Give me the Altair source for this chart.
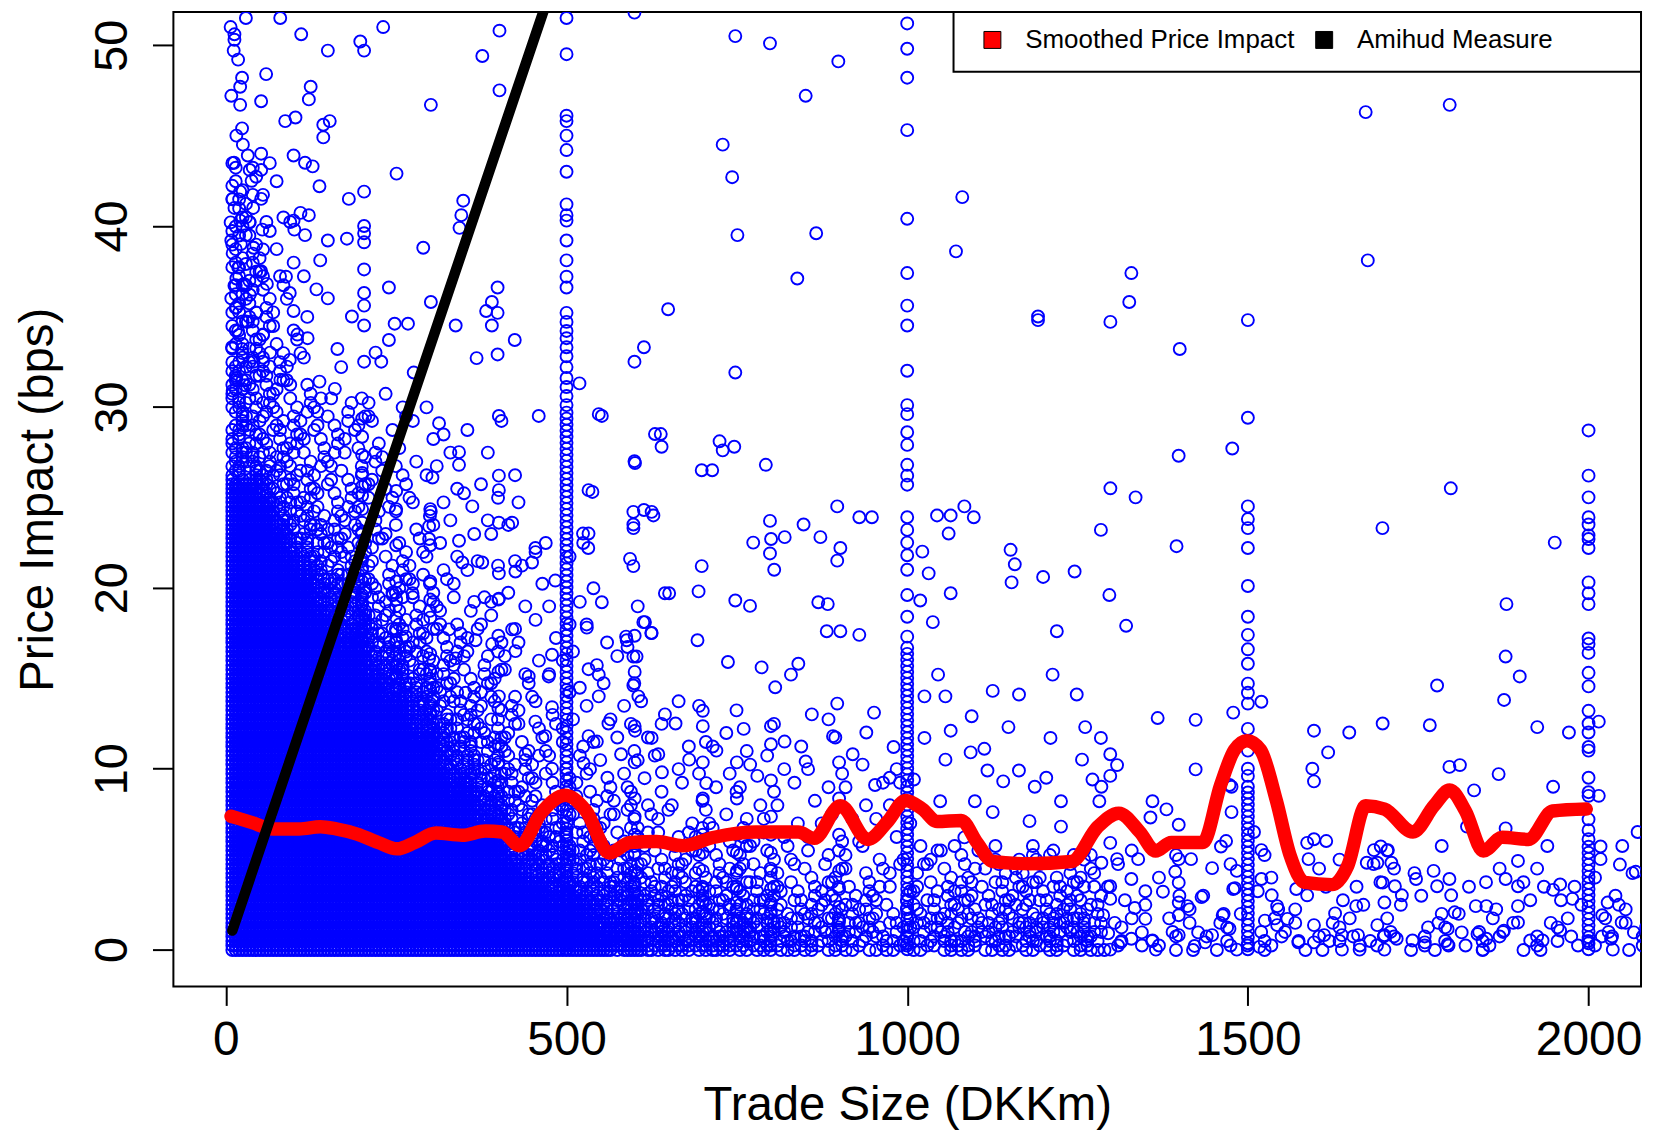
import altair as alt
import pandas as pd

alt.data_transformers.disable_max_rows()
FONT = "Liberation Sans"

# ---------------- lines ----------------
red_x = [7.6, 38.5, 69.3, 107.8, 138.7, 161.8, 192.6, 223.5, 251.2, 277.4, 308.3, 346.8, 380.8, 405.4,
         431.6, 462.5, 497.9, 528.8, 562.7, 593.5, 632.0, 670.6, 716.9, 778.6, 840.2, 863.4, 901.9, 942.0,
         971.3, 997.5, 1022.2, 1043.8, 1079.2, 1102.4, 1125.5, 1179.5, 1241.1, 1279.7, 1310.5, 1341.4,
         1364.5, 1387.6, 1433.9, 1460.1, 1480.2, 1498.7, 1518.7, 1541.8, 1561.9, 1583.4, 1623.5, 1646.7,
         1672.9, 1700.6, 1742.3, 1773.1, 1796.2, 1819.3, 1845.6, 1873.3, 1911.9, 1947.3, 1996.7]
red_y = [7.37, 7.02, 6.67, 6.67, 6.79, 6.67, 6.38, 5.92, 5.57, 5.92, 6.44, 6.32, 6.55, 6.50, 5.74, 7.54,
         8.53, 7.66, 5.34, 5.92, 5.97, 5.74, 6.21, 6.50, 6.50, 6.15, 7.95, 6.09, 7.08, 8.24, 7.77, 7.08,
         7.14, 5.92, 4.87, 4.75, 4.87, 6.79, 7.54, 6.50, 5.45, 5.92, 5.92, 9.11, 11.03, 11.55, 11.03, 8.24,
         5.22, 3.71, 3.59, 4.64, 7.95, 7.77, 6.50, 7.95, 8.82, 7.66, 5.45, 6.21, 6.09, 7.66, 7.77]
amihud_x = [9.5, 470.0]
amihud_y = [1.05, 52.3]
series_names = ["Smoothed Price Impact", "Amihud Measure"]

# ---------------- dense cloud (cells 20 DKKm x 1 bps, digit = density 0-9) ----------------
blob_left_x0 = 7
blob_solid = [26, 26, 25, 23, 22, 21, 19, 18, 17, 17, 15, 14, 14, 12, 12, 10, 9, 9, 7, 7, 5, 4, 4, 3, 3, 3,
              2, 1, 0, 1] + [0] * 20
blob_upper = ["66555" "5544443333332", "55444" "4433333222211", "654333" "3322222111101",
              "76443332" "2221111101010", "654433322" "2111010101", "6544332222" "1110101001",
              "765443222222", "7654432222221", "76543322221121", "87654332222121", "7654332221212121",
              "76543222111211101", "76543322211121011", "7654332221111101010", "7654332221111010101",
              "765433222111101010100", "7654332221111010101000", "7654322211101010100100",
              "765433222111101010101000", "765443222111101010100010", "76543322211110101010010000",
              "765432221111010101001000000", "765432211110101010100000000",
              "7654322111101010100100000000", "7654322111010101001000000000",
              "6543221111010100100100000000",
              "76543221110101001010", "865432211101010010", "8865432111010100100",
              "876543221111010100100", "7654322111010100", "7654321110101", "6654321110100100",
              "654322110101", "7654322111010100", "654322110101", "6543211101001", "66443221110101",
              "5543211010100", "654322111010100", "5432111010100", "5432110101010", "5432211010100",
              "443211010100100", "553321110101", "44321101010", "4432111010100", "43221101010",
              "432110101010", "43211101010"]
blob_mid_x0 = 1007
blob_mid_cols = ["443221", "443212", "543221", "443312", "543221", "443211", "543322", "443221",
                 "544312", "453221", "553312", "454221", "553312", "443221"]
blob_right_x0 = 1287
blob_right_rows = [  # bottom row first
    "1211121112" "1211212121" "2112121211" "1211212112",
    "1110111011" "0111101110" "1101110111" "1011101111",
    "0101001010" "1010100101" "0100101010" "0101010110",
    "1001010100" "0100001010" "1001001010" "1010100100",
    "0100100001" "0010010001" "0110000001" "0100001010",
    "0010010000" "0100000100" "1000100000" "0010000010",
]

# ---------------- vertical stacks of trades at round sizes ----------------
stack_x = [500, 1000, 1500, 2000, 200, 250, 300, 400, 600, 700, 750, 800, 900]
stack_start = [0, 0, 0, 0, 17, 13, 11, 6, 2, 2, 1, 1, 1]
stack_counts = ["3" * 30 + "2", "3" * 17, "3" * 9, "333333" + "2", "2121212121111", "2121211101011",
                "21211101110101", "2121110101010100", "2211111010100101", "21111010101", "2211110101",
                "221111101011", "2111010101"]
col_x = [500, 1000, 1500, 2000]
col_extra_y = [
    [31.1, 31.6, 32.2, 32.8, 33.3, 33.8, 34.2, 34.7, 35.2, 36.6, 37.2, 38.1, 39.2, 40.3, 40.6, 41.2, 43.0,
     44.2, 45.0, 45.8, 46.1, 49.5, 51.5],
    [17.3, 18.4, 19.6, 21.0, 21.8, 22.5, 23.2, 23.9, 25.7, 26.2, 26.8, 27.9, 28.6, 29.6, 30.1, 32.0, 34.5,
     35.6, 37.4, 40.4, 45.3, 48.2, 49.8, 51.2],
    [9.0, 9.6, 10.0, 11.0, 12.2, 13.6, 14.2, 14.7, 15.8, 16.6, 17.4, 18.4, 20.1, 22.2, 23.3, 23.8, 24.5,
     29.4, 34.8],
    [7.2, 8.5, 8.7, 9.5, 11.0, 11.2, 12.0, 12.5, 13.2, 14.55, 15.3, 16.4, 16.9, 17.2, 19.1, 19.7, 20.3,
     22.2, 22.7, 22.9, 23.5, 23.9, 25.0, 26.2, 28.7],
]

# ---------------- individual circles ----------------
upper_left = [
    (7.0, 51.0), (12.6, 50.6), (12.6, 50.3), (11.5, 49.7), (29.4, 51.5), (79.8, 51.5), (110.6, 50.6),
    (149.7, 49.7), (197.3, 50.2), (202.9, 49.7), (230.9, 51.0), (401.6, 50.8), (376.4, 49.4), (401.6, 47.5),
    (300.9, 46.7), (23.8, 48.2), (21.0, 47.7), (59.1, 48.4), (21.0, 46.7), (51.8, 46.9), (124.5, 47.7),
    (121.8, 47.0), (87.1, 45.8), (102.2, 46.0), (143.0, 45.6), (152.5, 45.8), (143.0, 44.9), (15.4, 45.0),
    (23.8, 45.4), (32.2, 43.9), (51.8, 44.0), (35.0, 43.1), (51.8, 43.1), (37.8, 42.5), (99.4, 43.9),
    (116.2, 43.5), (127.4, 43.3), (137.4, 42.2), (180.5, 41.5), (202.9, 41.9), (250.5, 42.9), (9.8, 41.5),
    (21.0, 41.9), (51.8, 41.5), (12.6, 41.0), (7.0, 40.2), (21.0, 40.3), (35.0, 40.2), (53.5, 39.8),
    (29.4, 39.5), (99.4, 40.3), (121.8, 40.6), (100.5, 39.8), (116.2, 39.5), (149.7, 39.2), (177.7, 39.3),
    (202.9, 40.0), (202.9, 39.6), (202.9, 39.1), (348.4, 41.4), (345.6, 40.6), (342.9, 39.9), (289.7, 38.8),
    (40.6, 38.8), (54.6, 38.7), (138.5, 38.1), (18.2, 37.7), (29.4, 37.9), (15.4, 37.1), (12.6, 36.7),
    (26.4, 36.8), (51.8, 37.5), (60.2, 36.8), (88.2, 37.2), (93.8, 36.3), (132.9, 36.5), (149.7, 36.0),
    (202.9, 37.6), (202.9, 36.3), (202.9, 35.6), (239.3, 36.6), (300.9, 35.8), (398.8, 36.6), (390.4, 35.8),
    (382.0, 35.3), (398.8, 35.2), (390.4, 34.5), (424.0, 33.7), (398.8, 32.9), (368.0, 32.7), (337.3, 34.5),
    (15.4, 35.5), (32.2, 34.7), (54.6, 34.0), (23.8, 33.2), (40.6, 32.5), (54.6, 32.5), (15.4, 31.6),
    (99.4, 35.3), (105.0, 34.0), (93.8, 32.6), (163.7, 33.2), (169.3, 32.2), (137.4, 31.4), (202.9, 34.5),
    (202.9, 32.5), (219.7, 33.0), (247.7, 34.6), (267.3, 34.6), (239.3, 33.7), (228.1, 32.5), (275.7, 31.9),
    (519.0, 31.3), (10, 38.5), (8, 36.0), (18, 34.2), (9, 33.3), (28, 31.2), (10, 30.9), (35, 36.2),
    (45, 35.2), (8, 39.2), (22, 39.0), (40, 41.0), (12, 43.5), (25, 44.5), (8, 47.2), (18, 49.2), (65, 33.0),
    (80, 31.5), (120, 33.8), (185, 35.0), (160, 31.0),
]
middle = [
    (599.7, 51.8), (898.9, 49.1), (798.6, 50.1), (747.7, 50.5), (851.0, 47.2), (729.2, 44.5), (743.1, 42.7),
    (750.8, 39.5), (866.4, 39.6), (838.7, 37.1), (747.7, 31.9), (724.6, 28.1), (746.2, 27.8), (698.4, 26.5),
    (713.8, 26.5), (729.2, 27.6), (613.6, 33.3), (599.7, 32.5), (649.1, 35.4), (638.3, 28.5), (599.7, 27.0),
    (613.6, 24.3), (627.5, 24.0), (598.2, 23.3), (524.2, 23.0), (531.9, 22.2), (547.3, 29.6), (538.0, 25.3),
    (792.5, 26.8), (798.6, 23.7), (800.2, 22.7), (798.6, 21.9), (804.8, 21.0), (774.0, 22.5), (820.2, 22.8),
    (847.9, 23.5), (897.3, 24.5), (901.9, 22.2), (897.3, 21.5), (929.7, 23.9), (948.2, 23.9), (872.6, 22.8),
    (881.9, 17.6), (901.9, 17.6), (929.7, 17.4), (869.5, 19.2), (883.4, 19.1), (747.7, 19.3), (769.3, 19.0),
    (693.8, 19.8), (698.4, 21.2), (650.6, 19.7), (624.4, 17.5), (615.1, 18.1), (587.4, 17.3), (602.8, 16.2),
    (692.2, 17.1), (736.9, 15.9), (786.3, 15.6), (806.3, 14.5), (829.4, 15.2), (840.2, 15.8), (951.3, 13.1),
    (851.0, 10.4), (897.3, 13.6), (891.1, 11.8), (952.8, 9.1), (974.4, 9.5),
    (551.8, 29.5), (532.3, 25.4), (532.3, 23.0), (529.8, 17.8), (551.8, 19.2), (600.5, 26.9), (598.1, 24.2),
    (624.9, 24.2), (598.1, 23.5), (639.5, 27.8), (629.8, 28.5), (593.2, 21.6), (598.1, 21.2), (612.7, 18.1),
    (588.3, 17.1), (624.9, 17.5), (598.1, 16.2), (644.4, 19.7), (532.3, 15.5), (547.3, 15.2), (547.3, 14.0),
    (598.1, 14.6), (605.4, 14.0), (644.4, 13.0), (561.5, 12.5), (600.5, 12.1), (532.3, 11.8), (544.5, 11.5),
    (624.9, 11.7), (634.7, 10.8),
    (459.2, 29.5), (400.7, 29.5), (312.9, 29.1), (342.2, 27.5), (342.2, 26.8), (303.2, 26.1), (400.7, 26.2),
    (400.7, 25.4), (361.7, 24.5), (300.7, 24.2), (298.3, 23.4), (298.3, 22.7), (400.7, 23.6), (420.2, 23.6),
    (454.3, 22.2), (449.4, 21.4), (425.0, 20.9), (400.7, 20.8), (400.7, 19.4), (347.0, 21.4), (342.2, 22.6),
    (376.3, 21.4), (483.5, 20.4), (478.7, 16.3), (473.8, 15.1), (420.2, 17.7), (425.0, 16.5), (444.5, 15.1),
    (390.9, 16.9), (366.5, 17.1), (337.3, 16.1), (327.5, 17.7), (273.9, 19.7), (244.7, 19.6), (264.2, 17.3),
    (298.3, 16.1), (351.9, 14.2), (400.7, 14.0), (454.3, 12.6), (478.7, 13.4), (468.9, 11.8), (478.7, 10.0),
    (439.7, 10.8),
    (660, 12.5), (680, 10.5), (700, 13.2), (720, 11.0), (760, 12.2), (780, 9.6), (820, 11.5), (860, 13.0),
    (920, 10.8), (940, 12.0), (980, 11.2), (705, 9.2), (640, 9.8), (560, 9.5), (580, 10.8), (525, 10.3),
]
upper_right = [
    (1083.9, 24.5), (1063.8, 24.0), (1043.8, 24.0), (1097.7, 23.9), (1060.8, 23.0), (1063.8, 19.7),
    (1080.8, 41.6), (1071.6, 38.6), (1022.2, 22.0), (1031.5, 20.8), (1019.1, 19.3), (1037.6, 18.1),
    (1045.3, 15.2), (1025.3, 14.0), (1056.1, 14.0), (1063.8, 12.1), (1094.6, 12.9), (1148.6, 12.3),
    (1261.2, 12.3), (1151.7, 22.1), (1157.9, 21.3), (1153.2, 20.3), (1199.5, 20.6), (1245.7, 20.9),
    (1219.6, 17.6), (1248.8, 14.1), (1164.1, 14.1), (1125.5, 14.3), (1213.4, 15.2), (1192.0, 35.0),
    (1192.0, 34.8), (1672.9, 46.3), (1796.2, 46.7), (1676.0, 38.1), (1400.0, 33.2), (1329.0, 37.4),
    (1325.9, 35.8), (1298.2, 34.7), (1335.2, 25.0), (1298.2, 25.5), (1284.3, 23.2), (1697.5, 23.3),
    (1797.8, 25.5), (1395.3, 22.3), (1398.4, 27.3), (1477.1, 27.7), (1296.7, 19.6), (1321.3, 17.9),
    (1879.5, 19.1), (1950.4, 22.5),
    (1056.1, 10.5), (1093.1, 10.9), (1117.8, 9.9), (1140.9, 9.3), (1164.0, 9.9), (1187.2, 9.0),
    (1204.1, 9.5), (1225.7, 8.2), (1256.6, 10.5), (1271.9, 9.4), (1099.3, 8.2), (1125.5, 7.6),
    (1179.5, 7.1), (1225.7, 6.8), (1083.9, 6.2), (1048.4, 8.2), (1009.9, 9.4), (1210.3, 11.7),
    (1113.2, 11.1), (1284.3, 11.7), (1025.3, 11.7),
]
lower_right = [
    (1367.6, 12.8), (1423.3, 12.7), (1423.3, 9.96), (1298, 10.8), (1308, 10.2), (1298, 9.6), (1285, 9.0),
    (1282, 8.2), (1360, 8.2), (1380.5, 7.75), (1357, 7.3), (1398.5, 6.9), (1298, 5.9), (1308, 5.0),
    (1339, 5.0), (1398.5, 5.0), (1416.6, 5.0), (1447.5, 4.5), (1468, 6.0), (1476, 9.0), (1476, 7.6),
    (1478.5, 13.1), (1519.8, 13.7), (1597, 12.1), (1648.8, 12.0), (1697.8, 12.5), (1767, 12.4),
    (1777.7, 14.6), (1878.3, 16.2), (1899, 15.1), (1876, 13.8), (1924.7, 12.3), (1617.8, 10.9),
    (1594.6, 10.0), (1597, 9.3), (1795.8, 10.1), (1811.2, 10.2), (1832, 8.8), (1868, 9.7), (1948, 9.0),
    (1821.6, 6.8), (1878.3, 6.7), (1896.4, 4.9), (1878.3, 3.9), (1896.4, 3.5), (1896.4, 2.4), (1896.4, 1.5),
    (1875.8, 1.05), (1914.4, 0.5), (1932.5, 0.5), (1958.3, 1.05), (1948, 3.3), (1958.3, 3.6),
    (1971.2, 12.0), (1976.3, 2.8), (2015, 12.6), (2015, 8.5), (2017.6, 5.7), (2017.6, 5.0), (2028, 2.6),
    (2046, 4.7), (2072, 6.5), (2069.2, 4.3), (2048.6, 1.5), (2066.6, 0.95), (2033, 0.6), (2035.6, 0.0),
    (2020, 1.9), (1473, 9.1), (1509, 6.5), (1519.8, 5.5), (1519.8, 3.9), (1483.7, 4.35), (1481, 3.4),
    (1535, 3.0), (1543, 2.4), (1558, 1.7), (1525, 1.6), (1517, 0.15), (1543, 1.35), (1571, 3.35),
    (1587, 5.9), (1589, 5.0), (1597, 6.1), (1615, 6.0), (1587, 3.0), (1597, 1.35), (1597, 0.4), (1574, 0.4),
    (1612, 0.8), (1638, 0.8), (1661.7, 0.8), (1638, 0.0), (1664, 0.0), (1628, 2.0), (1659, 2.4),
    (1674.5, 4.8), (1685, 5.5), (1695, 5.7), (1705.5, 5.5), (1690, 4.8), (1710.6, 4.8), (1697.8, 3.7),
    (1715.8, 3.5), (1726, 3.0), (1700.4, 2.6), (1690, 1.35), (1700.4, 0.8), (1718.4, 0.6), (1700.4, 0.0),
    (1741.6, 0.5), (1759.7, 0.4), (1746.8, 3.9), (1772.6, 4.35), (1777.7, 3.5), (1795.8, 3.9),
    (1798.4, 3.0), (1803.5, 2.06), (1793.2, 1.14), (1813.8, 0.95), (1793.2, 0.3), (1834.5, 2.4),
    (1850, 2.4), (1837, 0.86), (1850, 0.6), (1845, 0.0), (1285, 4.8), (1298, 3.5), (1298, 2.8),
    (1287.6, 1.9), (1295, 0.9), (1298, 0.0), (1329, 3.9), (1334, 2.3), (1349.5, 1.7), (1344.4, 0.95),
    (1360, 0.5), (1365, 0.0), (1375.3, 3.2), (1393.4, 4.3), (1398.5, 3.7), (1398.5, 2.6), (1398.5, 1.9),
    (1398.5, 0.8), (1411.4, 2.4), (1427, 0.95), (1447.5, 0.8), (1463, 1.9), (1473, 1.15), (1478.5, 3.35),
    (1483.7, 0.0), (1437.2, 0.4), (1421.8, 0.2), (1460.5, 5.7), (1432, 2.9), (1329, 0.6), (1313.4, 0.4),
]

# ---------------- build point table ----------------
BAYER = [[0, 8, 2, 10], [12, 4, 14, 6], [3, 11, 1, 9], [15, 7, 13, 5]]
LEVELS = [0, 1, 2, 3, 4, 6, 8, 10, 12, 16]
CELL_W, CELL_H, Y0 = 20.0, 1.0, -0.15
px, py = [], []


def add_cloud(cols, x0):
    for c, col in enumerate(cols):
        for r, ch in enumerate(col):
            k = LEVELS[int(ch)]
            if not k:
                continue
            shift = (r * 7 + c * 5) % 16
            for a in range(4):
                for b in range(4):
                    if (BAYER[a][b] + shift) % 16 < k:
                        px.append(x0 + CELL_W * (c + (b + 0.5) / 4))
                        py.append(Y0 + CELL_H * (r + (a + 0.5) / 4))


add_cloud(["9" * s + u for s, u in zip(blob_solid, blob_upper)], blob_left_x0)
add_cloud(blob_mid_cols, blob_mid_x0)
add_cloud(["".join(t) for t in zip(*blob_right_rows)], blob_right_x0)
for sx, s0, cnt in zip(stack_x, stack_start, stack_counts):
    for r, ch in enumerate(cnt):
        n = int(ch)
        for k in range(n):
            px.append(sx)
            py.append(Y0 + s0 + r + (k + 0.5) / n)
for cx, ys in zip(col_x, col_extra_y):
    for yv in ys:
        px.append(cx)
        py.append(yv)
for group in (upper_left, middle, upper_right, lower_right):
    for xv, yv in group:
        px.append(xv)
        py.append(yv)

points_df = pd.DataFrame({"x": px, "y": py})
lines_df = pd.DataFrame({
    "x": red_x + amihud_x,
    "y": red_y + amihud_y,
    "series": [series_names[0]] * len(red_x) + [series_names[1]] * len(amihud_x),
})
red_df = lines_df[lines_df.series == series_names[0]]
black_df = lines_df[lines_df.series == series_names[1]]

W, H = 1473, 978
xscale = alt.Scale(domain=[-77, 2077], nice=False, zero=False)
yscale = alt.Scale(domain=[-2.04, 51.83], nice=False, zero=False)

x_axis = alt.Axis(values=[0, 500, 1000, 1500, 2000], format="d", tickSize=19, tickWidth=2,
                  tickColor="black", domain=False, grid=False, labelFont=FONT, labelFontSize=48,
                  labelColor="black", labelPadding=11, labelFlush=False, labelOverlap=False,
                  title="Trade Size (DKKm)", titleFont=FONT, titleFontSize=47.5, titleFontWeight="normal",
                  titleColor="black", titleX=W / 2, titleY=134, titleAlign="center",
                  titleBaseline="alphabetic")
y_axis = alt.Axis(values=[0, 10, 20, 30, 40, 50], format="d", tickSize=21, tickWidth=2, tickColor="black",
                  domain=False, grid=False, labelFont=FONT, labelFontSize=47, labelColor="black",
                  labelAngle=270, labelAlign="center", labelBaseline="alphabetic", labelPadding=26,
                  labelFlush=False, labelOverlap=False,
                  title="Price Impact (bps)", titleFont=FONT, titleFontSize=47.5, titleFontWeight="normal",
                  titleColor="black", titleAngle=270, titleX=-121, titleY=489, titleAlign="center",
                  titleBaseline="alphabetic")

pts = alt.Chart(points_df).mark_point(shape="circle", filled=False, size=145, strokeWidth=1.9,
                                      color="#0000ff", opacity=1, clip=True).encode(
    x=alt.X("x:Q", scale=xscale, axis=x_axis),
    y=alt.Y("y:Q", scale=yscale, axis=y_axis),
)
red = alt.Chart(red_df).mark_line(color="#ff0000", strokeWidth=13.5, interpolate="monotone",
                                  strokeCap="round", strokeJoin="round", clip=True).encode(
    x="x:Q", y="y:Q")
black = alt.Chart(black_df).mark_line(color="#000000", strokeWidth=10.5, strokeCap="round",
                                      clip=True).encode(x="x:Q", y="y:Q")
legend_proxy = alt.Chart(lines_df).mark_point(shape="square", filled=True, opacity=0, size=4).encode(
    x="x:Q", y="y:Q",
    fill=alt.Fill("series:N", scale=alt.Scale(domain=series_names, range=["#ff0000", "#000000"]),
                  legend=alt.Legend(title=None, orient="none", legendX=809, legendY=15,
                                    direction="horizontal", symbolType="square", symbolSize=289,
                                    symbolOpacity=1, symbolStrokeColor="black", symbolStrokeWidth=1,
                                    labelFont=FONT, labelFontSize=26, labelColor="black",
                                    labelOffset=20, columnPadding=16, labelLimit=600, padding=0)),
)
frame = alt.Chart(pd.DataFrame({"k": [0]})).mark_rect(fill="white", stroke="black",
                                                       strokeWidth=2).encode(
    x=alt.value(783), x2=alt.value(W), y=alt.value(0), y2=alt.value(60))

chart = alt.layer(pts, red, black, legend_proxy, frame).properties(
    width=W, height=H,
    autosize=alt.AutoSizeParams(type="none"),
    padding={"left": 166, "top": 2, "right": 4, "bottom": 145},
).configure_view(stroke="black", strokeWidth=2)

chart.save("out.html", embed_options={"renderer": "svg", "actions": False})
